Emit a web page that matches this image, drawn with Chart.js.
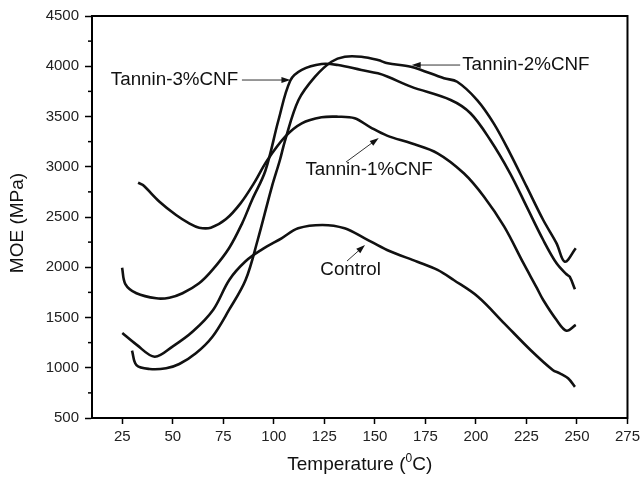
<!DOCTYPE html>
<html>
<head>
<meta charset="utf-8">
<script src="https://cdn.jsdelivr.net/npm/chart.js@4.4.1/dist/chart.umd.min.js"></script>
<style>
html, body { margin: 0; padding: 0; background: #fff; }
</style>
</head>
<body>
<canvas id="myChart" width="644" height="478"></canvas>
<script>
// -- temperature (C) / MOE (MPa) --
const controlT = [25, 32, 41, 50, 60, 70, 78, 86, 94, 104, 112, 124, 135, 145, 156, 171, 181, 189, 201, 214, 227, 238, 241.5, 245.6, 249];
const controlM = [1345, 1230, 1110, 1213, 1363, 1578, 1876, 2059, 2175, 2291, 2387, 2420, 2387, 2288, 2172, 2055, 1973, 1873, 1707, 1442, 1177, 978, 945, 895, 810];

const cnf1T = [32.8, 35.2, 43.4, 51.6, 58.1, 63, 68.8, 76.2, 83.5, 90.1, 96.6, 105.6, 113.8, 123.6, 131.8, 140, 148, 156, 168, 181, 194, 204, 214, 223.5, 230, 233.3, 239.9, 244.8, 249.4];
const cnf1M = [2841, 2818, 2652, 2520, 2437, 2394, 2394, 2477, 2636, 2835, 3060, 3299, 3432, 3492, 3498, 3482, 3390, 3310, 3233, 3134, 2935, 2702, 2404, 2040, 1800, 1674, 1475, 1369, 1426];

const cnf2T = [29.8, 32, 38.5, 46.7, 53.2, 61.4, 69.6, 77.8, 86, 92, 99, 103, 105.6, 112.2, 120.4, 128.5, 135.1, 143.3, 151.5, 156.4, 167.8, 184.2, 190.7, 200.6, 208.8, 216.9, 225.1, 233.3, 239.9, 244, 249.4];
const cnf2M = [1170, 1027, 988, 995, 1037, 1144, 1309, 1575, 1873, 2271, 2800, 3067, 3266, 3664, 3896, 4045, 4095, 4095, 4062, 4029, 3996, 3880, 3846, 3664, 3432, 3134, 2802, 2470, 2238, 2055, 2189];

const cnf3T = [24.9, 26.5, 32, 41.8, 48.3, 54.8, 63, 69.6, 77.8, 84.3, 89.2, 95.8, 102.3, 108.1, 113.8, 123.6, 131.8, 143.3, 151.5, 156.4, 167.8, 187.5, 197.3, 207.1, 216.9, 225.1, 233.3, 239.9, 244.8, 246.4, 249];
const cnf3M = [1996, 1833, 1741, 1691, 1697, 1741, 1840, 1973, 2189, 2437, 2669, 2960, 3465, 3856, 3963, 4022, 4012, 3963, 3930, 3896, 3797, 3664, 3532, 3266, 2935, 2603, 2271, 2039, 1930, 1906, 1780];

const xTicks = [25, 50, 75, 100, 125, 150, 175, 200, 225, 250, 275];
const yTicks = [500, 1000, 1500, 2000, 2500, 3000, 3500, 4000, 4500];
const yMinor = [750, 1250, 1750, 2250, 2750, 3250, 3750, 4250];

// -- labels with arrows, in data units --
const notes = [
    { text: 'Tannin-3%CNF', tx: 19.3, ty: 3863, from: [84.2, 3863], to: [108.2, 3863] },
    { text: 'Tannin-2%CNF', tx: 193.2, ty: 4012, from: [192.2, 4012], to: [168.2, 4012] },
    { text: 'Tannin-1%CNF', tx: 115.6, ty: 2968, from: [135.7, 3047], to: [151.9, 3286] },
    { text: 'Control', tx: 123, ty: 1973, from: [136.2, 2062], to: [145.1, 2221] }
];

const FONT = 'Arial, "Liberation Sans", sans-serif';

function pts(xs, ys)
{
    return xs.map((v, i) => ({ x: v, y: ys[i] }));
}

function line(label, xs, ys)
{
    return {
        label: label,
        data: pts(xs, ys),
        showLine: true,
        borderColor: '#111',
        borderWidth: 2.6,
        pointRadius: 0,
        tension: 0.35
    };
}

// --> frame, minor ticks, axis titles and notes <--
const extras = {
    id: 'extras',
    afterDraw(chart)
    {
        const ctx = chart.ctx;
        const a = chart.chartArea;
        const sx = chart.scales.x;
        const sy = chart.scales.y;
        ctx.save();
        ctx.strokeStyle = '#000';
        ctx.lineWidth = 2;
        ctx.strokeRect(a.left, a.top, a.right - a.left, a.bottom - a.top);

        ctx.lineWidth = 1.5;
        for (let v of yMinor)
        {
            const py = sy.getPixelForValue(v);
            ctx.beginPath();
            ctx.moveTo(a.left - 4, py);
            ctx.lineTo(a.left, py);
            ctx.stroke();
        }

        ctx.fillStyle = '#111';
        // y title
        ctx.save();
        ctx.translate(18, (a.top + a.bottom) / 2 + 6);
        ctx.rotate(-Math.PI / 2);
        ctx.font = '19px ' + FONT;
        ctx.textAlign = 'center';
        ctx.textBaseline = 'middle';
        ctx.fillText('MOE (MPa)', 0, 0);
        ctx.restore();

        // x title with superscript
        ctx.font = '19px ' + FONT;
        ctx.textBaseline = 'alphabetic';
        ctx.textAlign = 'left';
        const p1 = 'Temperature (', p3 = 'C)';
        const w1 = ctx.measureText(p1).width;
        const w3 = ctx.measureText(p3).width;
        ctx.font = '12px ' + FONT;
        const w2 = ctx.measureText('0').width;
        let x0 = (a.left + a.right) / 2 - (w1 + w2 + w3) / 2;
        const base = 470;
        ctx.font = '19px ' + FONT;
        ctx.fillText(p1, x0, base);
        ctx.font = '12px ' + FONT;
        ctx.fillText('0', x0 + w1, base - 8);
        ctx.font = '19px ' + FONT;
        ctx.fillText(p3, x0 + w1 + w2, base);

        // notes
        ctx.font = '18.8px ' + FONT;
        ctx.textBaseline = 'middle';
        for (let n of notes)
        {
            ctx.fillText(n.text, sx.getPixelForValue(n.tx), sy.getPixelForValue(n.ty));
            const x1 = sx.getPixelForValue(n.from[0]), y1 = sy.getPixelForValue(n.from[1]);
            const x2 = sx.getPixelForValue(n.to[0]), y2 = sy.getPixelForValue(n.to[1]);
            const ang = Math.atan2(y2 - y1, x2 - x1);
            ctx.lineWidth = 1;
            ctx.strokeStyle = '#333';
            ctx.beginPath();
            ctx.moveTo(x1, y1);
            ctx.lineTo(x2 - 6 * Math.cos(ang), y2 - 6 * Math.sin(ang));
            ctx.stroke();
            ctx.beginPath();
            ctx.moveTo(x2, y2);
            ctx.lineTo(x2 - 9 * Math.cos(ang) + 3 * Math.sin(ang), y2 - 9 * Math.sin(ang) - 3 * Math.cos(ang));
            ctx.lineTo(x2 - 9 * Math.cos(ang) - 3 * Math.sin(ang), y2 - 9 * Math.sin(ang) + 3 * Math.cos(ang));
            ctx.closePath();
            ctx.fill();
        }
        ctx.restore();
    }
};

const ctx = document.getElementById('myChart').getContext('2d');
const myChart = new Chart(ctx, {
    type: 'scatter',
    data: {
        datasets: [
            line('Control', controlT, controlM),
            line('Tannin-1%CNF', cnf1T, cnf1M),
            line('Tannin-2%CNF', cnf2T, cnf2M),
            line('Tannin-3%CNF', cnf3T, cnf3M)
        ]
    },
    options: {
        responsive: false,
        devicePixelRatio: 1,
        animation: false,
        layout: { padding: { top: 16, right: 13, left: 0, bottom: 0 } },
        plugins: { legend: { display: false }, tooltip: { enabled: false } },
        scales: {
            x: {
                type: 'linear',
                min: 10,
                max: 275,
                afterBuildTicks: s => { s.ticks = xTicks.map(v => ({ value: v })); },
                afterFit: s => { s.height = 60; },
                grid: { drawOnChartArea: false, tickLength: 6, tickColor: '#000', tickWidth: 1.5 },
                border: { color: '#000', width: 2 },
                ticks: { color: '#222', font: { size: 15, family: FONT }, padding: 4, maxRotation: 0, callback: v => String(v) }
            },
            y: {
                min: 500,
                max: 4500,
                afterBuildTicks: s => { s.ticks = yTicks.map(v => ({ value: v })); },
                afterFit: s => { s.width = 92; },
                grid: { drawOnChartArea: false, tickLength: 7, tickColor: '#000', tickWidth: 1.5 },
                border: { color: '#000', width: 2 },
                ticks: { color: '#222', font: { size: 15, family: FONT }, padding: 6, callback: v => String(v) }
            }
        }
    },
    plugins: [extras]
});
</script>
</body>
</html>
